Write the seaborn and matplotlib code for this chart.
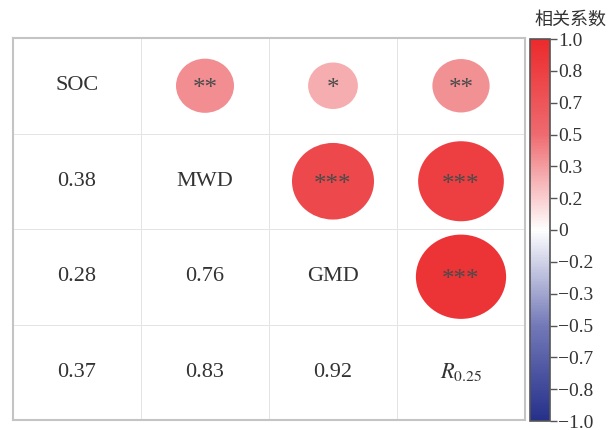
import numpy as np
import pandas as pd
import matplotlib
matplotlib.use("Agg")
import matplotlib.pyplot as plt
import seaborn as sns
from matplotlib.colors import LinearSegmentedColormap, Normalize
from matplotlib.patches import Ellipse
from matplotlib.cm import ScalarMappable

# Variables and pairwise correlation coefficients
variables = ["SOC", "MWD", "GMD", r"$\mathit{R}_{\mathrm{0.25}}$"]
pair_i = [0, 0, 0, 1, 1, 2]
pair_j = [1, 2, 3, 2, 3, 3]
pair_r = [0.38, 0.28, 0.37, 0.76, 0.83, 0.92]
pair_sig = ["**", "*", "**", "***", "***", "***"]

cbar_ticks = list(np.linspace(-1, 1, 13))

sns.set_style("white")
plt.rcParams["font.family"] = ["Liberation Serif", "Noto Sans CJK SC", "DejaVu Sans"]
plt.rcParams["mathtext.fontset"] = "stix"

cmap = LinearSegmentedColormap.from_list(
    "corr",
    [(0.0, "#25308A"), (0.25, "#7379B8"), (0.5, "#FFFFFF"),
     (0.75, "#EE6B70"), (1.0, "#EC2A2C")],
)
norm = Normalize(vmin=-1, vmax=1)

n = len(variables)
fig = plt.figure(figsize=(6.12, 4.30), dpi=100)
W, H = 612, 430
ax = fig.add_axes([13 / W, 1 - 420 / H, (525 - 13) / W, (420 - 38) / H])

# Blank grid of cells
grid = pd.DataFrame(np.zeros((n, n)))
sns.heatmap(grid, ax=ax, cmap=LinearSegmentedColormap.from_list("w", ["white", "white"]),
            cbar=False, linewidths=0.7, linecolor="#E4E4E4",
            xticklabels=False, yticklabels=False)
for s in ax.spines.values():
    s.set_visible(True)
    s.set_color("#C4C4C4")
    s.set_linewidth(1.5)

txt_color = "#333333"
# Diagonal labels
for k, name in enumerate(variables):
    ax.text(k + 0.5, k + 0.5, name, ha="center", va="center",
            fontsize=16, color=txt_color)

# Lower triangle: numbers; upper triangle: ellipses sized by |r|
for i, j, r, sig in zip(pair_i, pair_j, pair_r, pair_sig):
    ax.text(i + 0.5, j + 0.5, f"{r:.2f}", ha="center", va="center",
            fontsize=16, color=txt_color)
    s = np.sqrt(abs(r))
    e = Ellipse((j + 0.5, i + 0.5), width=0.735 * s, height=0.92 * s,
                facecolor=cmap(norm(r)), edgecolor="none", zorder=3)
    ax.add_patch(e)
    ax.text(j + 0.5, i + 0.535, sig, ha="center", va="center",
            fontsize=18, color="#4A4A4A", zorder=4)

# Colour bar
cax = fig.add_axes([530 / W, 1 - 421 / H, 20 / W, (421 - 39) / H])
sm = ScalarMappable(norm=norm, cmap=cmap)
cb = fig.colorbar(sm, cax=cax, ticks=cbar_ticks)
labels = []
for t in cbar_ticks:
    if abs(t) < 1e-9:
        labels.append("0")
    else:
        labels.append(f"{t:.1f}".replace("-", "\u2212"))
cb.set_ticklabels(labels)
cb.outline.set_edgecolor("#555555")
cb.outline.set_linewidth(1.2)
cax.tick_params(labelsize=14, length=5, width=1, color="#555555",
                labelcolor=txt_color, pad=1)
fig.text(570 / W, 1 - 20 / H, "相关系数", ha="center", va="center",
         fontsize=13, color=txt_color,
         family=["Noto Sans CJK SC", "DejaVu Sans"])

fig.savefig("out.png", dpi=100)
